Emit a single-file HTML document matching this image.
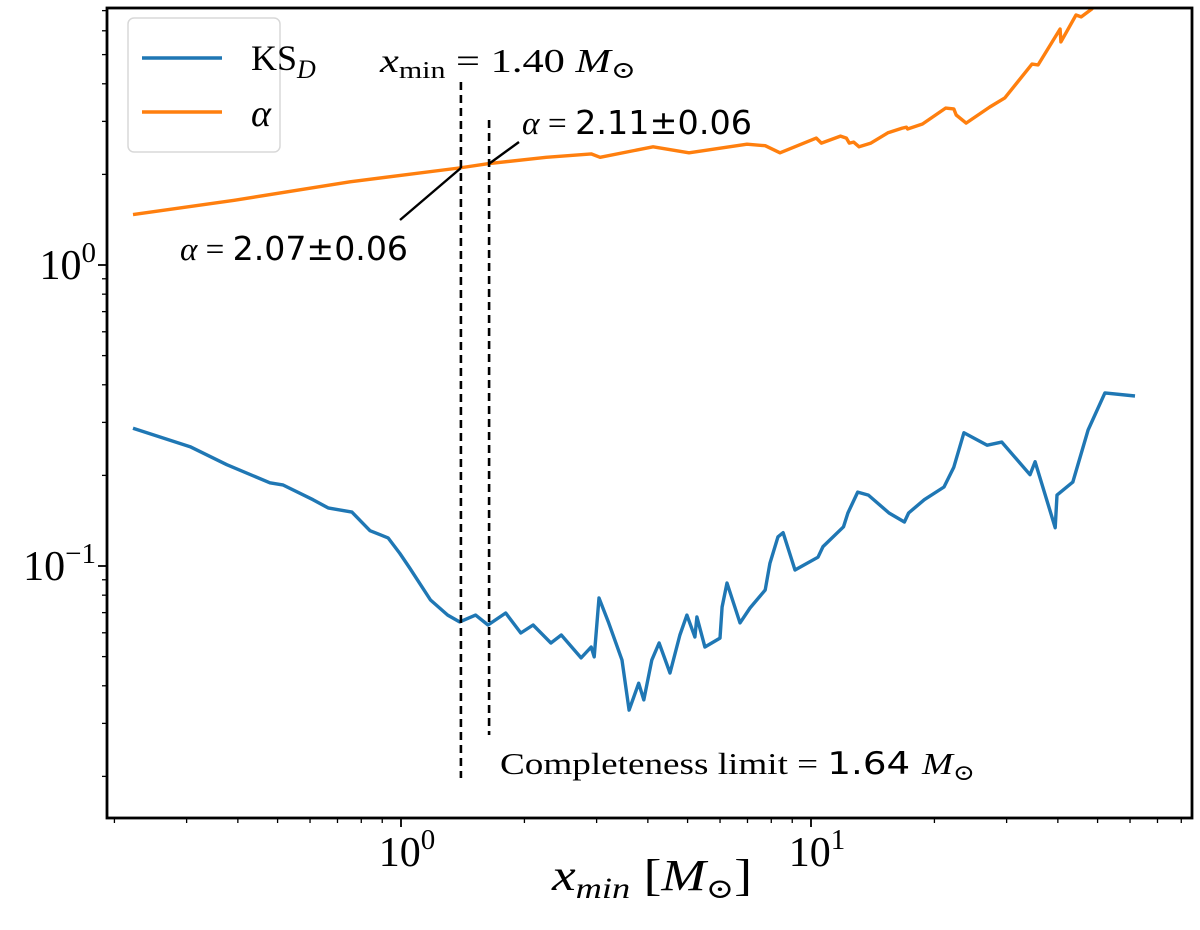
<!DOCTYPE html>
<html><head><meta charset="utf-8"><style>
html,body{margin:0;padding:0;background:#fff;}
svg{display:block;}
.serif{font-family:"Liberation Serif","DejaVu Serif",serif;}
.sans{font-family:"DejaVu Sans","Liberation Sans",sans-serif;}
</style></head><body>
<svg id="chart" width="1200" height="930" viewBox="0 0 1200 930" xmlns="http://www.w3.org/2000/svg">
<g id="plot"></g>
</svg>
<script>
const ksX=[0.222,0.306,0.376,0.479,0.515,0.610,0.664,0.759,0.840,0.930,0.994,1.05,1.18,1.30,1.39,1.52,1.63,1.80,1.96,2.10,2.32,2.46,2.75,2.91,2.96,3.04,3.21,3.46,3.60,3.80,3.91,4.09,4.26,4.53,4.79,4.98,5.21,5.27,5.51,6.00,6.07,6.24,6.71,7.10,7.73,7.94,8.31,8.55,9.14,10.4,10.7,12.0,12.3,13.0,13.8,15.5,16.9,17.3,18.9,21.1,22.3,23.6,26.9,29.2,34.2,35.2,39.4,39.8,43.5,47.4,52.1,61.7];
const ksY=[0.287,0.249,0.217,0.189,0.186,0.166,0.156,0.151,0.131,0.124,0.110,0.0985,0.0771,0.0687,0.0652,0.0687,0.0637,0.0698,0.0599,0.0637,0.0555,0.0590,0.0495,0.0538,0.0499,0.0783,0.0647,0.0487,0.0332,0.0408,0.0359,0.0487,0.0555,0.0441,0.0590,0.0687,0.0581,0.0677,0.0538,0.0576,0.0731,0.0878,0.0647,0.0725,0.0832,0.102,0.125,0.129,0.0970,0.107,0.116,0.135,0.150,0.176,0.172,0.150,0.140,0.150,0.166,0.183,0.213,0.277,0.252,0.258,0.201,0.222,0.134,0.172,0.190,0.283,0.376,0.367];
const alphaX=[0.222,0.392,0.751,1.385,1.63,2.26,2.91,3.06,4.12,5.04,6.98,7.73,8.40,10.3,10.6,11.8,12.2,12.4,12.7,13.1,14.0,15.4,16.7,17.1,17.2,18.7,21.3,22.3,22.6,23.9,27.3,29.7,34.6,35.8,40.5,40.7,44.3,45.6,48.4,50.7];
const alphaY=[1.47,1.64,1.89,2.10,2.17,2.28,2.34,2.28,2.47,2.36,2.52,2.49,2.36,2.64,2.54,2.68,2.64,2.54,2.56,2.47,2.54,2.75,2.85,2.87,2.83,2.94,3.32,3.30,3.15,2.96,3.35,3.59,4.65,4.62,6.08,5.51,6.77,6.67,7.09,7.71];
const vlineX=[1.40,1.64];
const xMajor=[1,10];
const yMajor=[0.1,1];

const L=107,R=1192,T=8,B=818;
const xMin=Math.pow(10,(L-401)/410), xMax=Math.pow(10,(R-401)/410);
const yMax=Math.pow(10,(265-T)/301), yMin=Math.pow(10,(265-B)/301);
function sx(v){return L+(Math.log10(v)-Math.log10(xMin))/(Math.log10(xMax)-Math.log10(xMin))*(R-L);}
function sy(v){return B-(Math.log10(v)-Math.log10(yMin))/(Math.log10(yMax)-Math.log10(yMin))*(B-T);}
const NS='http://www.w3.org/2000/svg';
const svg=document.getElementById('chart');
const plot=document.getElementById('plot');
function mk(tag,attrs,parent){const e=document.createElementNS(NS,tag);for(const k in attrs)e.setAttribute(k,attrs[k]);(parent||svg).appendChild(e);return e;}

const defs=mk('defs',{});
const cp=mk('clipPath',{id:'clip'},defs);
mk('rect',{x:L,y:T,width:R-L,height:B-T},cp);

function pathD(xs,ys){return xs.map((x,i)=>(i?'L':'M')+sx(x).toFixed(1)+','+sy(ys[i]).toFixed(1)).join('');}
const ks=mk('path',{d:pathD(ksX,ksY),fill:'none',stroke:'#1f77b4','stroke-width':3.4,'stroke-linejoin':'round','clip-path':'url(#clip)'},plot);


const al=mk('path',{d:pathD(alphaX,alphaY),fill:'none',stroke:'#ff7f0e','stroke-width':3.4,'stroke-linejoin':'round','clip-path':'url(#clip)'},plot);



const vTop=[82,120], vBot=[778,735];
vlineX.forEach((v,i)=>{
  const l=mk('line',{x1:sx(v),x2:sx(v),y1:vTop[i],y2:vBot[i],stroke:'#000','stroke-width':2.6,'stroke-dasharray':'8,5'},plot);
  
  
});
const p1=mk('line',{x1:400,y1:220,x2:sx(1.40),y2:sy(2.10),stroke:'#000','stroke-width':2.4},plot);


const p2=mk('line',{x1:sx(1.64),y1:sy(2.17),x2:519,y2:142,stroke:'#000','stroke-width':2.4},plot);



const fr=mk('rect',{x:L,y:T,width:R-L,height:B-T,fill:'none',stroke:'#000','stroke-width':2.8});



for(let d=-1;d<=1;d++){for(let m=1;m<10;m++){const v=m*Math.pow(10,d);if(v<xMin||v>xMax)continue;const x=sx(v);const major=m===1;
  const t=mk('line',{x1:x,x2:x,y1:B,y2:B+(major?9:5),stroke:'#000','stroke-width':major?1.8:1.3});
  
  }}
for(let d=-3;d<=0;d++){for(let m=1;m<10;m++){const v=m*Math.pow(10,d);if(v<yMin||v>yMax)continue;const y=sy(v);const major=m===1;
  const t=mk('line',{x1:L,x2:L-(major?9:5),y1:y,y2:y,stroke:'#000','stroke-width':major?1.8:1.3});
  
  }}
const supMap={'0':'0','1':'1','-1':'−1'};
xMajor.forEach(v=>{const e=Math.round(Math.log10(v));
  const t=mk('text',{x:sx(v)+6,y:866,'text-anchor':'middle','font-size':42,class:'serif'});
  t.innerHTML='10<tspan dy="-17" font-size="29">'+supMap[e]+'</tspan>';
  
  });
yMajor.forEach(v=>{const e=Math.round(Math.log10(v));
  const t=mk('text',{x:96,y:sy(v)+14,'text-anchor':'end','font-size':42,class:'serif'});
  t.innerHTML='10<tspan dy="-17" font-size="29">'+supMap[e]+'</tspan>';
  
  });
</script>
<svg width="1200" height="930" style="position:absolute;left:0;top:0" viewBox="0 0 1200 930" xmlns="http://www.w3.org/2000/svg">
<g>
<rect x="128" y="18" width="152" height="134" rx="6" fill="#fff" fill-opacity="0.85" stroke="#d8d8d8" stroke-width="1.5"/>
<line x1="142" y1="58" x2="222" y2="58" stroke="#1f77b4" stroke-width="3.4"/>
<text x="251" y="70" font-size="36" class="serif">KS<tspan font-style="italic" font-size="26" dy="8">D</tspan></text>
<line x1="142" y1="112" x2="222" y2="112" stroke="#ff7f0e" stroke-width="3.4"/>
<text x="251" y="126" font-size="38" font-style="italic" class="serif">α</text>
</g>
<text x="380" y="72" font-size="34" class="serif" textLength="256" lengthAdjust="spacingAndGlyphs"><tspan font-style="italic">x</tspan><tspan font-size="24" dy="6">min</tspan><tspan dy="-6"> = 1.40 </tspan><tspan font-style="italic">M</tspan><tspan font-size="24" dy="6">⊙</tspan></text>
<text x="522" y="134" font-size="33" textLength="230" lengthAdjust="spacingAndGlyphs"><tspan class="serif" font-style="italic">α</tspan><tspan class="serif"> = </tspan><tspan class="sans">2.11±0.06</tspan></text>
<text x="180" y="260" font-size="33" textLength="228" lengthAdjust="spacingAndGlyphs"><tspan class="serif" font-style="italic">α</tspan><tspan class="serif"> = </tspan><tspan class="sans">2.07±0.06</tspan></text>
<text x="500" y="774" font-size="31" textLength="475" lengthAdjust="spacingAndGlyphs"><tspan class="serif">Completeness limit = </tspan><tspan class="sans">1.64 </tspan><tspan class="serif" font-style="italic">M</tspan><tspan class="serif" font-size="22" dy="6">⊙</tspan></text>
<text x="552" y="890" font-size="44" class="serif" textLength="200" lengthAdjust="spacingAndGlyphs"><tspan font-style="italic">x</tspan><tspan font-style="italic" font-size="30" dy="8">min</tspan><tspan dy="-8"> [</tspan><tspan font-style="italic">M</tspan><tspan font-size="28" dy="8">⊙</tspan><tspan dy="-8">]</tspan></text>
</svg>
</body></html>
